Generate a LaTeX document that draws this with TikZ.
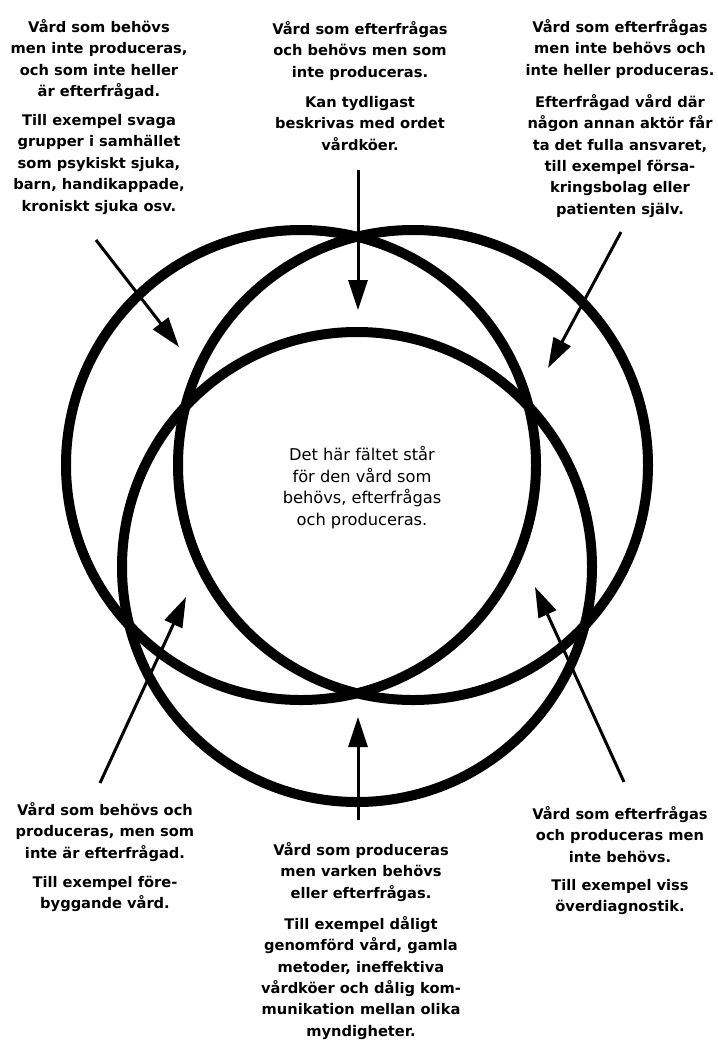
\documentclass[tikz,border=0pt]{standalone}
\usepackage{fontspec}
\setmainfont{DejaVu Sans}
\usetikzlibrary{arrows.meta}
\tikzset{
  ring/.style = {circle, draw, line width=10bp, minimum size=470bp, inner sep=0pt},
  txt/.style  = {align=center, anchor=north, inner sep=0pt,
                 font=\fontsize{14.7}{21.5}\selectfont\bfseries},
  txtc/.style = {txt, font=\fontsize{16.3}{21.7}\selectfont},
  arr/.style  = {line width=3bp, -{Triangle[length=30bp, width=19bp]}},
}

\begin{document}
\begin{tikzpicture}[x=1bp, y=-1bp]
  \useasboundingbox (0,0) rectangle (718,1041);
  % behovs, efterfragas, produceras
  \node[ring] (behovs) at (301,465) {};
  \node[ring] (efterfragas) at (413,465) {};
  \node[ring] (produceras) at (357,567) {};

  \node[txt] (tl1) at (99,19) {Vård som behövs\\men inte produceras,\\och som inte heller\\är efterfrågad.};
  \node[txt] (tl2) at (99,114) {Till exempel svaga\\grupper i samhället\\som psykiskt sjuka,\\barn, handikappade,\\kroniskt sjuka osv.};
  \node[txt] (tc1) at (360,21) {Vård som efterfrågas\\och behövs men som\\inte produceras.};
  \node[txt] (tc2) at (360,96) {Kan tydligast\\beskrivas med ordet\\vårdköer.};
  \node[txt] (tr1) at (620,19) {Vård som efterfrågas\\men inte behövs och\\inte heller produceras.};
  \node[txt] (tr2) at (620,94) {Efterfrågad vård där\\någon annan aktör får\\ta det fulla ansvaret,\\till exempel försa-\\kringsbolag eller\\patienten själv.};
  \node[txtc] (mid) at (362,446) {Det här fältet står\\för den vård som\\behövs, efterfrågas\\och produceras.};
  \node[txt] (bl1) at (105,802) {Vård som behövs och\\produceras, men som\\inte är efterfrågad.};
  \node[txt] (bl2) at (105,876) {Till exempel före-\\byggande vård.};
  \node[txt] (bc1) at (361,842) {Vård som produceras\\men varken behövs\\eller efterfrågas.};
  \node[txt] (bc2) at (361,916) {Till exempel dåligt\\genomförd vård, gamla\\metoder, ineffektiva\\vårdköer och dålig kom-\\munikation mellan olika\\myndigheter.};
  \node[txt] (br1) at (620,806) {Vård som efterfrågas\\och produceras men\\inte behövs.};
  \node[txt] (br2) at (620,879) {Till exempel viss\\överdiagnostik.};

  % arrows
  \coordinate (tl-s) at (96,240);  \coordinate (tl-e) at (179,347);
  \coordinate (tc-s) at (358,170); \coordinate (tc-e) at (358,310);
  \coordinate (tr-s) at (621,232); \coordinate (tr-e) at (548,368);
  \coordinate (bl-s) at (100,783); \coordinate (bl-e) at (186,597);
  \coordinate (bc-s) at (358,820); \coordinate (bc-e) at (358,717);
  \coordinate (br-s) at (624,782); \coordinate (br-e) at (535,587);
  \draw[arr] (tl-s) -- (tl-e);
  \draw[arr] (tc-s) -- (tc-e);
  \draw[arr] (tr-s) -- (tr-e);
  \draw[arr] (bl-s) -- (bl-e);
  \draw[arr] (bc-s) -- (bc-e);
  \draw[arr] (br-s) -- (br-e);
\end{tikzpicture}
\end{document}
